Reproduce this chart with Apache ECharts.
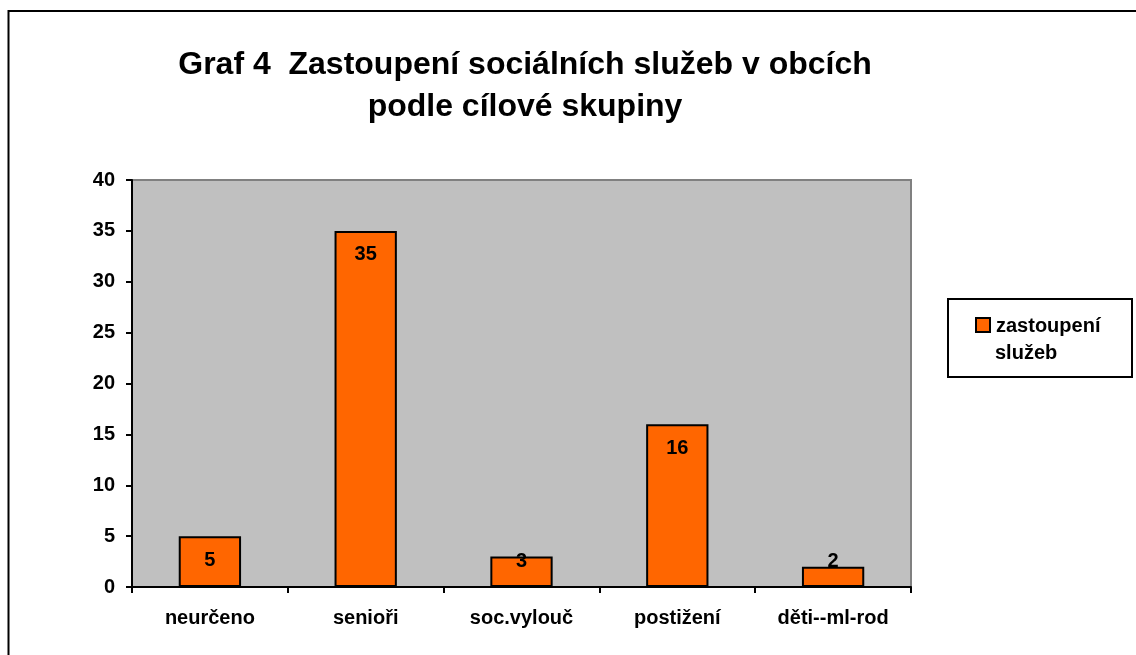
<!DOCTYPE html>
<html>
<head>
<meta charset="utf-8">
<script src="https://cdn.jsdelivr.net/npm/echarts@6/dist/echarts.min.js"></script>
<style>
  html, body { margin: 0; padding: 0; background: #fff; }
  #chart { width: 1136px; height: 655px; }
</style>
</head>
<body>
<div id="chart"></div>
<script>
// data
var categories = ['neurčeno', 'senioři', 'soc.vylouč', 'postižení', 'děti--ml-rod'];
var values = [5, 35, 3, 16, 2];
var yTicks = [0, 5, 10, 15, 20, 25, 30, 35, 40];
var seriesName = 'zastoupení služeb';

var FONT = 'Arial, "Liberation Sans", sans-serif';

// plot area
var gridTop = 180, gridBottom = 587;

// Excel puts the label 'inside end', but never lower than a fixed line near the axis
function labelFor(v) {
	var topPx = gridBottom - v * (gridBottom - gridTop) / yTicks[yTicks.length - 1];
	var d = Math.min(14, 551 - topPx);
	return { position: 'insideTop', distance: d };
}

var barData = values.map(function (v) {
	return { value: v, label: labelFor(v) };
});

var option = {
	backgroundColor: '#ffffff',
	animation: false,
	title: {
		text: 'Graf 4  Zastoupení sociálních služeb v obcích\npodle cílové skupiny',
		left: 520,
		top: 39,
		textAlign: 'center',
		textStyle: {
			fontFamily: FONT,
			fontSize: 32,
			fontWeight: 'bold',
			color: '#000',
			lineHeight: 42
		}
	},
	grid: {
		left: 132,
		top: gridTop,
		right: 1136 - 911,
		bottom: 655 - gridBottom,
		show: true,
		backgroundColor: '#C0C0C0',
		borderColor: '#808080',
		borderWidth: 2
	},
	xAxis: {
		type: 'category',
		data: categories,
		axisLine: { lineStyle: { color: '#000', width: 2 } },
		axisTick: { show: true, length: 6, lineStyle: { color: '#000', width: 2 } },
		axisLabel: {
			margin: 21,
			fontFamily: FONT,
			fontSize: 20,
			fontWeight: 'bold',
			color: '#000'
		}
	},
	yAxis: {
		type: 'value',
		min: 0,
		max: 40,
		interval: 5,
		splitLine: { show: false },
		axisLine: { show: true, lineStyle: { color: '#000', width: 2 } },
		axisTick: { show: true, length: 6, lineStyle: { color: '#000', width: 2 } },
		axisLabel: {
			margin: 17,
			fontFamily: FONT,
			fontSize: 20,
			fontWeight: 'bold',
			color: '#000'
		}
	},
	series: [{
		name: seriesName,
		type: 'bar',
		barWidth: '40%',
		data: barData,
		itemStyle: { color: '#FF6600', borderColor: '#000', borderWidth: 2 },
		label: {
			show: true,
			fontFamily: FONT,
			fontSize: 20,
			fontWeight: 'bold',
			color: '#000'
		}
	}],
	graphic: [
		// outer chart border (runs off the right and bottom edge)
		{
			type: 'rect',
			shape: { x: 8.5, y: 11, width: 1300, height: 800 },
			style: { fill: 'none', stroke: '#000', lineWidth: 2 },
			silent: true
		},
		// legend box
		{
			type: 'rect',
			shape: { x: 948, y: 299, width: 184, height: 78 },
			style: { fill: '#fff', stroke: '#000', lineWidth: 2 },
			silent: true
		},
		{
			type: 'rect',
			shape: { x: 976, y: 318, width: 14, height: 14 },
			style: { fill: '#FF6600', stroke: '#000', lineWidth: 2 }
		},
		{
			type: 'text',
			x: 996,
			y: 326,
			style: {
				text: 'zastoupení',
				font: 'bold 20px ' + FONT,
				fill: '#000',
				verticalAlign: 'middle'
			}
		},
		{
			type: 'text',
			x: 995,
			y: 353,
			style: {
				text: 'služeb',
				font: 'bold 20px ' + FONT,
				fill: '#000',
				verticalAlign: 'middle'
			}
		}
	]
};

var myChart = echarts.init(document.getElementById('chart'));
myChart.setOption(option);
</script>
</body>
</html>
